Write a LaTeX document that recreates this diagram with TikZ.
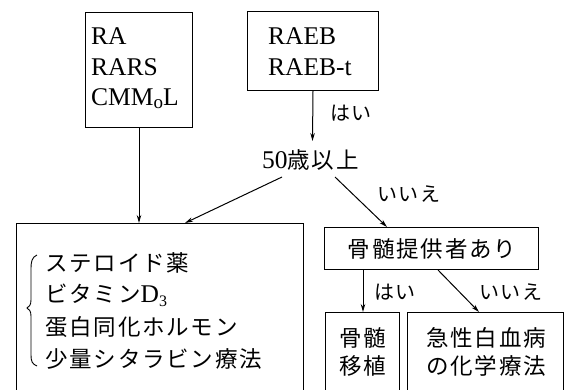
\documentclass[tikz,border=0pt]{standalone}
\usepackage{fontspec}
\setmainfont{Liberation Serif}
\newfontfamily\jp[LetterSpace=8]{Noto Sans CJK JP}
\usetikzlibrary{arrows.meta}
\begin{document}
\begin{tikzpicture}[x=1pt,y=-1pt,
  box/.style={draw,line width=1pt,rectangle,inner sep=0pt,anchor=north west},
  lat/.style={anchor=base west,inner sep=0pt,font=\fontsize{25.5}{26}\selectfont},
  jtxt/.style={anchor=base,inner sep=0pt,font=\fontsize{22.5}{24}\selectfont\jp},
  jtxtw/.style={anchor=base west,inner sep=0pt,font=\fontsize{22.5}{24}\selectfont\jp},
  lbl/.style={inner sep=0pt,font=\fontsize{20}{22}\selectfont\jp},
  arr/.style={line width=1pt,-{Stealth[length=8pt,width=4.5pt]}},
  brace/.style={line width=0.9pt}]
\useasboundingbox (0,0) rectangle (568,389);
\clip (0,0) rectangle (568,389);
% boxes
\node[box,minimum width=107pt,minimum height=115pt] (A) at (85,12) {};
\node[box,minimum width=131pt,minimum height=79pt] (B) at (247,11) {};
\node[box,minimum width=287pt,minimum height=200pt] (C) at (16,223) {};
\node[box,minimum width=214pt,minimum height=42pt] (D) at (324,227) {};
\node[box,minimum width=74pt,minimum height=100pt] (E) at (325,312) {};
\node[box,minimum width=156pt,minimum height=100pt] (F) at (407,312) {};
% texts in A and B
\node[lat] (a1) at (91,44) {RA};
\node[lat] (a2) at (91,75) {RARS};
\node[lat] (a3) at (91,105) {CMM\raisebox{-3pt}{\fontsize{19}{19}\selectfont o}L};
\node[lat] (b1) at (268,44) {RAEB};
\node[lat] (b2) at (268,75) {RAEB-t};
% decision text
\node[anchor=base west,inner sep=0pt] (age) at (262,168) {\fontsize{25.5}{26}\selectfont 50{\fontsize{22.5}{24}\selectfont\jp 歳以上}};
\coordinate (ageTop) at (312.5,141);
\coordinate (ageL) at (282,177);
\coordinate (ageR) at (335,177);
% texts in C
\node[jtxtw] (c1) at (45,271) {ステロイド薬};
\node[jtxtw] (c2) at (45,302) {ビタミン\fontspec{Liberation Serif}\fontsize{25.5}{26}\selectfont D\raisebox{-4pt}{\fontsize{16}{16}\selectfont 3}};
\node[jtxtw] (c3) at (45,335) {蛋白同化ホルモン};
\node[jtxtw] (c4) at (45,367) {少量シタラビン療法};
\draw[brace] (37,255) .. controls (32,257) and (31,262) .. (31,268) -- (31,300)
  .. controls (31,305) and (29,307) .. (27,308)
  .. controls (29,309) and (31,311) .. (31,316) -- (31,355)
  .. controls (31,361) and (32,364) .. (37,366);
% texts in D, E, F
\node[jtxt] (d1) at (432,257) {骨髄提供者あり};
\node[jtxt] (e1) at (363,346) {骨髄};
\node[jtxt] (e2) at (363,374) {移植};
\node[jtxt] (f1) at (486,346) {急性白血病};
\node[jtxt] (f2) at (486,374) {の化学療法};
% labels
\node[lbl] (l1) at (351,113) {はい};
\node[lbl] (l2) at (409,194) {いいえ};
\node[lbl] (l3) at (395,292) {はい};
\node[lbl] (l4) at (511,292) {いいえ};
% connectors
\draw[arr] (A.south) -- (A.south |- C.north);
\draw[arr] (B.south) -- (ageTop);
\draw[arr] (ageL) -- ([xshift=169pt]C.north west);
\draw[arr] (ageR) -- ([xshift=63pt]D.north west);
\coordinate (dE) at ([xshift=39pt]D.south west);
\draw[arr] (dE) -- (dE |- E.north);
\draw[arr] ([xshift=114pt]D.south west) -- ([xshift=72pt]F.north west);
\end{tikzpicture}
\end{document}
